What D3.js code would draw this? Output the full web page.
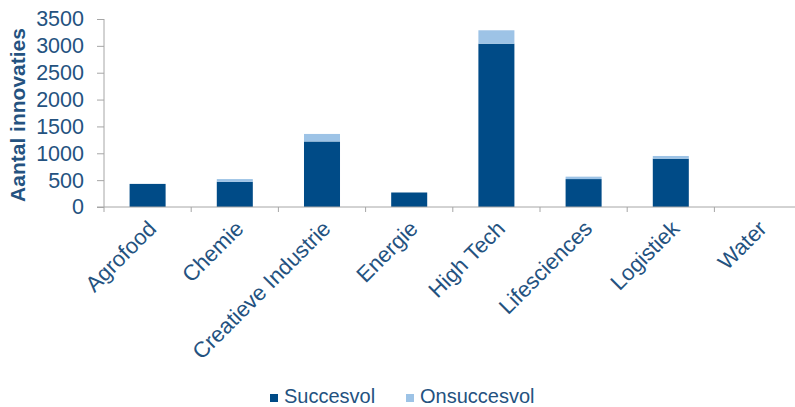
<!DOCTYPE html>
<html>
<head>
<meta charset="utf-8">
<script src="https://cdn.jsdelivr.net/npm/d3@7"></script>
<style>
  html, body { margin: 0; padding: 0; background: #fff; }
  svg { display: block; }
  text { font-family: "Liberation Sans", Arial, sans-serif; fill: #24527f; }
</style>
</head>
<body>
<svg id="chart" width="795" height="407"></svg>
<script>
// Aantal innovaties per sector, gestapeld: succesvol + onsuccesvol
const categories = ["Agrofood", "Chemie", "Creatieve Industrie", "Energie", "High Tech", "Lifesciences", "Logistiek", "Water"];
const succesvol   = [430, 470, 1220, 270, 3040, 520, 900, 0];
const onsuccesvol = [0, 50, 140, 0, 250, 45, 50, 0];
const seriesNames = ["Succesvol", "Onsuccesvol"];
const yTicks = [0, 500, 1000, 1500, 2000, 2500, 3000, 3500];

const colors = ["#004b87", "#9dc3e6"];
const axisColor = "#a6a6a6";

const svg = d3.select("#chart");

const rows = categories.map((c, i) => ({ cat: c, Succesvol: succesvol[i], Onsuccesvol: onsuccesvol[i] }));
const stacked = d3.stack().keys(seriesNames)(rows);

const x = d3.scaleBand()
  .domain(categories)
  .range([104, 801.6])
  .paddingInner(0.587)
  .paddingOuter(0.2935);

const y = d3.scaleLinear().domain([0, 3500]).range([207, 19]);

// bars
svg.append("g")
  .selectAll("g")
  .data(stacked)
  .join("g")
  .attr("fill", (d, i) => colors[i])
  .selectAll("rect")
  .data(d => d)
  .join("rect")
  .attr("x", d => x(d.data.cat))
  .attr("width", x.bandwidth())
  .attr("y", d => y(d[1]))
  .attr("height", d => y(d[0]) - y(d[1]));

// y axis
const yAxis = svg.append("g")
  .attr("transform", "translate(104,0)")
  .call(d3.axisLeft(y).tickValues(yTicks).tickFormat(d3.format("d")).tickSize(7).tickPadding(13));
yAxis.select(".domain").attr("stroke", axisColor).attr("d", "M0,207V19");
yAxis.selectAll(".tick line").attr("stroke", axisColor);
yAxis.selectAll(".tick text")
  .attr("font-size", "21.5px")
  .attr("fill", "#24527f")
  .attr("font-family", "Liberation Sans, Arial, sans-serif");

// x axis line with boundary ticks
const xAxisG = svg.append("g");
xAxisG.append("line")
  .attr("x1", 97).attr("x2", 795)
  .attr("y1", y(0)).attr("y2", y(0))
  .attr("stroke", axisColor).attr("stroke-width", 1);
const gap = (x.step() - x.bandwidth()) / 2;
xAxisG.selectAll("line.b")
  .data(categories)
  .join("line")
  .attr("class", "b")
  .attr("x1", d => x(d) - gap)
  .attr("x2", d => x(d) - gap)
  .attr("y1", y(0)).attr("y2", y(0) + 5)
  .attr("stroke", axisColor);

// category labels, rotated
svg.append("g")
  .selectAll("text")
  .data(categories)
  .join("text")
  .attr("transform", d => `translate(${x(d) + x.bandwidth() / 2 + 10},230) rotate(-45)`)
  .attr("text-anchor", "end")
  .attr("font-size", "22px")
  .text(d => d);

// y title
svg.append("text")
  .attr("transform", "translate(25,115) rotate(-90)")
  .attr("text-anchor", "middle")
  .attr("font-size", "21px")
  .attr("font-weight", "bold")
  .attr("fill", "#1d4a78")
  .text("Aantal innovaties");

// legend
const legendX = [270, 406];
const legend = svg.append("g")
  .selectAll("g")
  .data(seriesNames)
  .join("g")
  .attr("transform", (d, i) => `translate(${legendX[i]},394)`);
legend.append("rect")
  .attr("width", 8).attr("height", 8)
  .attr("fill", (d, i) => colors[i]);
legend.append("text")
  .attr("x", 14).attr("y", 8.5)
  .attr("font-size", "20px")
  .text(d => d);
</script>
</body>
</html>
